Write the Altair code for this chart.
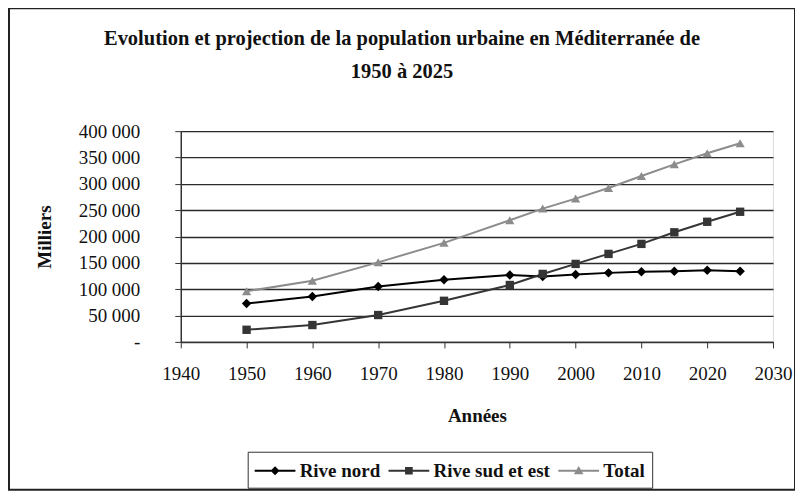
import altair as alt
import pandas as pd

# ---- data ----
years = [1950, 1960, 1970, 1980, 1990, 1995, 2000, 2005, 2010, 2015, 2020, 2025]
rive_nord = [73000, 86000, 105000, 118000, 127000, 124000, 128000, 131000, 133000, 134000, 136000, 134000]
rive_sud = [23000, 32000, 51000, 78000, 108000, 129000, 148000, 167000, 186000, 208000, 228000, 247000]
total = [96000, 116000, 151000, 188000, 231000, 253000, 272000, 292000, 315000, 337000, 358000, 377000]
series_names = ["Rive nord", "Rive sud et est", "Total"]
x_ticks = [1940, 1950, 1960, 1970, 1980, 1990, 2000, 2010, 2020, 2030]
y_ticks = [0, 50000, 100000, 150000, 200000, 250000, 300000, 350000, 400000]
title_lines = ["Evolution et projection de la population urbaine en Méditerranée de", "1950 à 2025"]

rows = []
for name, vals in zip(series_names, [rive_nord, rive_sud, total]):
    for yr, v in zip(years, vals):
        rows.append({"year": yr, "value": v, "series": name})
df = pd.DataFrame(rows)

FONT = "Liberation Serif"
colors = ["#000000", "#353535", "#8c8c8c"]
shapes = ["diamond", "square", "triangle-up"]
sizes = [90, 70, 85]
# legend glyphs: a short line with the marker in the middle (unit box scaled by 12 px)
seg = "M-1,-0.083H2.4V0.083H-1Z"
legend_glyphs = [
    seg + "M0.7,-0.375L1.075,0L0.7,0.375L0.325,0Z",
    seg + "M0.38,-0.32H1.02V0.32H0.38Z",
    seg + "M0.7,-0.4L1.1,0.3H0.3Z",
]

xscale = alt.Scale(domain=[1940, 2030], nice=False, zero=False)
yscale = alt.Scale(domain=[0, 400000], nice=False)
cscale = alt.Scale(domain=series_names, range=colors)

nbsp = "\u00a0"
y_label_expr = ("datum.value == 0 ? '-" + nbsp * 4 + "' : "
                "replace(format(datum.value, ','), regexp(',', 'g'), ' ')")

x_axis = alt.Axis(values=x_ticks, format="d", grid=False, tickSize=6,
                  tickColor="#333", domainColor="#333", domainWidth=1.5,
                  labelFont=FONT, labelFontSize=19, labelColor="#111",
                  labelPadding=17, labelFlush=False, labelOverlap=False,
                  title="Années", titleFont=FONT, titleFontSize=19,
                  titleFontWeight="bold", titleColor="#111",
                  titleY=74, titleBaseline="middle")
y_axis = alt.Axis(values=y_ticks, tickCount=9, labelExpr=y_label_expr, grid=True,
                  gridColor="#2a2a2a", gridWidth=1.4, tickSize=6,
                  tickColor="#333", domainColor="#333", domainWidth=1.5,
                  labelFont=FONT, labelFontSize=19, labelColor="#111",
                  labelPadding=35, labelOverlap=False,
                  title="Milliers", titleFont=FONT, titleFontSize=19,
                  titleFontWeight="bold", titleColor="#111",
                  titleX=-136, titleY=105.5, titleAngle=270,
                  titleAlign="center", titleBaseline="middle")

legend = alt.Legend(title=None, orient="none", legendX=67, legendY=321,
                    direction="horizontal", strokeColor="#333", padding=7,
                    labelFont=FONT, labelFontSize=19, labelFontWeight="bold",
                    labelColor="#111", symbolSize=576, symbolOpacity=1,
                    symbolStrokeWidth=0, columnPadding=8, labelOffset=21)

X = alt.X("year:Q", scale=xscale, axis=x_axis)
Y = alt.Y("value:Q", scale=yscale, axis=y_axis)

base = alt.Chart(df)
# layer that only supplies the legend (line + marker glyphs); its rows are filtered out
legend_layer = base.transform_filter(alt.datum.value < 0).mark_point(filled=True, opacity=1).encode(
    x=X, y=Y,
    color=alt.Color("series:N", scale=cscale, legend=legend),
    shape=alt.Shape("series:N", scale=alt.Scale(domain=series_names, range=legend_glyphs), legend=legend),
)
lines = base.mark_line(strokeWidth=2).encode(
    x=X, y=Y,
    color=alt.Color("series:N", scale=cscale, legend=legend),
)
point_layers = []
for name, shp, sz in zip(series_names, shapes, sizes):
    point_layers.append(
        base.transform_filter(alt.datum.series == name).mark_point(
            filled=True, opacity=1, size=sz, shape=shp
        ).encode(
            x=X, y=Y,
            color=alt.Color("series:N", scale=cscale, legend=legend),
        )
    )
frame = alt.Chart(pd.DataFrame({"a": [0]})).mark_rect(
    filled=False, stroke="#222", strokeWidth=2
).encode(x=alt.value(-172), x2=alt.value(615), y=alt.value(-123), y2=alt.value(359))

chart = alt.layer(legend_layer, lines, *point_layers, frame).properties(
    width=593, height=211,
    autosize=alt.AutoSizeParams(type="none"),
    padding={"left": 173, "top": 123, "right": 22, "bottom": 160},
    title=alt.TitleParams(text=title_lines, font=FONT, fontSize=20.5,
                          fontWeight="bold", color="#111", anchor="middle",
                          dx=-75, lineHeight=33, offset=0, dy=75),
).configure_view(fill="#b6b6b6", stroke="#444", strokeWidth=1.5
).configure(background="white")

chart.save("out.html", embed_options={"renderer": "svg", "actions": False})
